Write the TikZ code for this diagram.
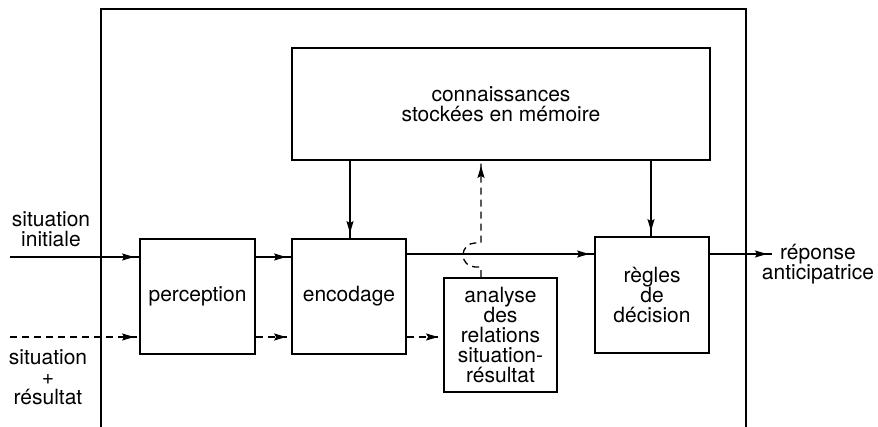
\documentclass[tikz,border=0pt]{standalone}
\usepackage{fontspec}
\setmainfont{TeX Gyre Heros}
\usetikzlibrary{arrows.meta,decorations.markings}
\begin{document}
\begin{tikzpicture}[x=1pt,y=-1pt,
  txt/.style={font=\fontsize{21}{20}\selectfont},
  box/.style={draw, line width=1.8pt, inner sep=0pt, align=center, txt},
  lbl/.style={inner sep=0pt, align=center, txt},
  frame/.style={line width=1.8pt},
  conn/.style={line width=1.3pt},
  dsh/.style={conn, dash pattern=on 7pt off 5pt},
  arr/.style={decoration={markings, mark=at position -5pt with {\arrow{Stealth[length=12pt,width=7pt,inset=2pt]}}}, postaction={decorate}},
]
\useasboundingbox (0,0) rectangle (878,427);
% frame
\draw[frame] (101,427) -- (101,9) -- (746,9) -- (746,427);
% boxes
\node[box, minimum width=418pt, minimum height=112pt] (mem) at (501,104) {connaissances\\stockées en mémoire};
\node[box, minimum width=115pt, minimum height=115pt] (perc) at (197.5,296.5) {perception};
\node[box, minimum width=114pt, minimum height=115pt] (enc) at (349,296.5) {encodage};
\node[box, minimum width=113pt, minimum height=114pt] (ana) at (500.5,335) {analyse\\des\\relations\\situation-\\résultat};
\node[box, minimum width=114pt, minimum height=116pt] (reg) at (652,295) {règles\\de\\décision};
% labels
\node[lbl] (sit1) at (51,229) {situation\\initiale};
\node[lbl] (sit2) at (48,377) {situation\\+\\résultat};
\node[lbl] (rep) at (818,264) {réponse\\anticipatrice};
% coordinates
\coordinate (s1) at (10,257);
\coordinate (s2) at (10,337);
\coordinate (h) at (0,254);
\coordinate (v1) at (350,0);
\coordinate (v2) at (651,0);
\coordinate (v3) at (481,0);
\coordinate (out) at (772,254);
% inputs
\draw[conn, arr] (s1) -- (s1 -| perc.west);
\draw[dsh, arr] (s2) -- (s2 -| perc.west);
% perception -> encodage
\draw[conn, arr] (perc.east |- s1) -- (enc.west |- s1);
\draw[dsh, arr] (perc.east |- s2) -- (enc.west |- s2);
% encodage -> analyse
\draw[dsh, arr] (enc.east |- s2) -- (ana.west |- s2);
% encodage -> regles
\draw[conn, arr] (enc.east |- h) -- (reg.west |- h);
% memory -> encodage, regles
\draw[conn, arr] (v1 |- mem.south) -- (v1 |- enc.north);
\draw[conn, arr] (v2 |- mem.south) -- (v2 |- reg.north);
% analyse -> memory with hop
\draw[dsh, arr] (v3 |- ana.north) -- (481,267) -- (475,267) arc[start angle=270, end angle=90, radius=12pt] -- (481,243) -- (v3 |- mem.south);
% output
\draw[conn, arr] (reg.east |- h) -- (out);
\end{tikzpicture}
\end{document}
